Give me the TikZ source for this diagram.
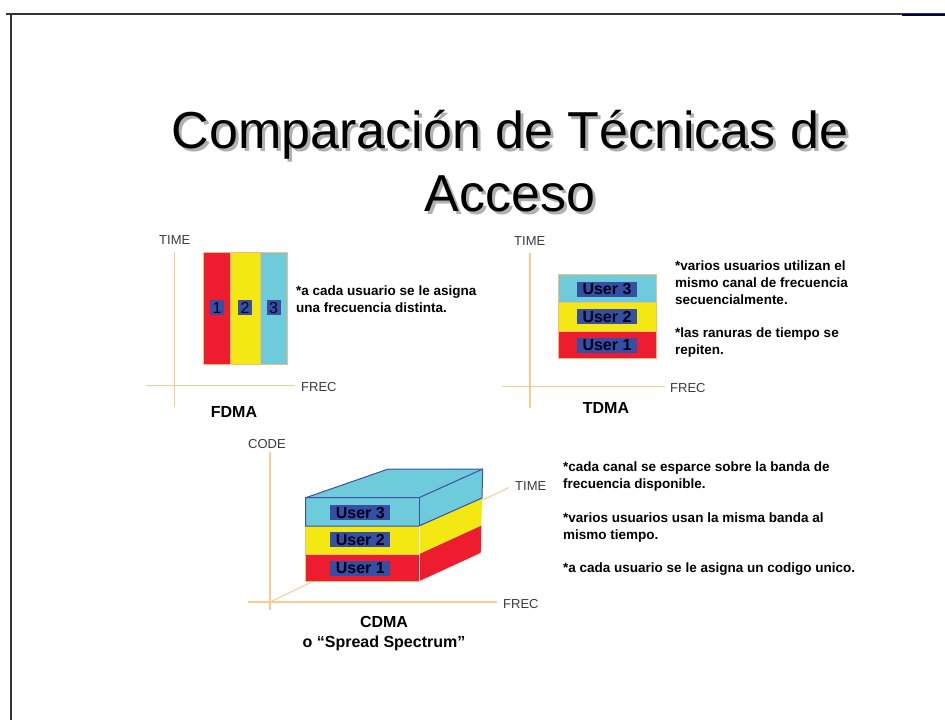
\documentclass[tikz,border=0pt]{standalone}
\usepackage{fontspec}
\setmainfont{Liberation Sans}
\definecolor{cred}{HTML}{ED1C2E}
\definecolor{cyel}{HTML}{F4E813}
\definecolor{ccyan}{HTML}{6ECBDC}
\definecolor{cnavy}{HTML}{3550A2}
\definecolor{cblueline}{HTML}{3A4FA8}
\definecolor{caxis}{HTML}{F8CB8F}
\definecolor{cedge}{HTML}{F5BE78}
\definecolor{clabel}{HTML}{3A3A3A}
\definecolor{cframe}{HTML}{333333}
\definecolor{cshadow}{HTML}{B0B0B0}
\newcommand{\shadowtext}[1]{\makebox[0pt][l]{\hspace{3pt}\raisebox{-3pt}{\textcolor{cshadow}{#1}}}#1}
\tikzset{
  axisline/.style={draw=caxis, line width=1.3pt},
  bandedge/.style={draw=cedge, line width=1pt},
  ubox/.style={fill=cnavy, text=black!90!blue, font=\bfseries\fontsize{16}{16}\selectfont, inner sep=0pt, minimum width=60pt, minimum height=15pt},
  nbox/.style={fill=cnavy, text=black!90!blue, font=\fontsize{16}{16}\selectfont, inner sep=0pt, minimum width=14pt, minimum height=15pt},
  axlabel/.style={text=clabel, font=\fontsize{13}{13}\selectfont, inner sep=0pt, anchor=west},
  note/.style={font=\bfseries\fontsize{13.5}{16.8}\selectfont, align=left, anchor=north west, inner sep=0pt},
  caption/.style={font=\bfseries\fontsize{16}{20}\selectfont, inner sep=0pt, align=center},
  titletext/.style={font=\fontsize{52}{62}\selectfont, inner sep=0pt, anchor=base},
}
\begin{document}
\begin{tikzpicture}[x=1pt,y=-1pt]
\useasboundingbox (0,0) rectangle (945,720);
% frame
\draw[cframe, line width=1.6pt] (6,14) -- (945,14);
\draw[cframe, line width=1.6pt] (11,14) -- (11,720);
\draw[black!70!blue, line width=1.4pt] (902,15) -- (945,15);
% title
\node[titletext] (t1) at (510,148) {\shadowtext{Comparación de Técnicas de}};
\node[titletext] (t2) at (510,211) {\shadowtext{Acceso}};

% ---------------- FDMA ----------------
\coordinate (fvt) at (174.3,252);
\coordinate (fvb) at (174.3,407);
\coordinate (fhl) at (146,385.7);
\coordinate (fhr) at (295,385.7);
\draw[axisline] (fvt) -- (fvb);
\draw[axisline] (fhl) -- (fhr);
\fill[cred] (203.3,252.3) rectangle (230.7,364);
\fill[cyel] (230.7,252.3) rectangle (260,364);
\fill[ccyan] (260,252.3) rectangle (287.7,364);
\draw[bandedge] (203.3,252.3) rectangle (287.7,364);
\draw[bandedge] (230.7,252.3) -- (230.7,364);
\draw[bandedge] (260,252.3) -- (260,364);
\node[nbox] (f1) at (217,307.5) {1};
\node[nbox] (f2) at (245,307.5) {2};
\node[nbox] (f3) at (273.5,307.5) {3};
\node[axlabel] (ftime) at (159,240) {TIME};
\node[axlabel] (ffrec) at (301,387.5) {FREC};
\node[caption] (fcap) at (234,412) {FDMA};
\node[note] (fnote) at (296,285.5) {*a cada usuario se le asigna\\una frecuencia distinta.};

% ---------------- TDMA ----------------
\coordinate (tvt) at (530,253);
\coordinate (tvb) at (530,408);
\coordinate (thl) at (502,386.7);
\coordinate (thr) at (665,386.7);
\draw[axisline] (tvt) -- (tvb);
\draw[axisline] (thl) -- (thr);
\fill[ccyan] (558,274) rectangle (656,302.3);
\fill[cyel] (558,302.3) rectangle (656,331);
\fill[cred] (558,331) rectangle (656,358);
\draw[bandedge] (558,274) rectangle (656,358);
\draw[bandedge] (558,302.3) -- (656,302.3);
\draw[bandedge] (558,331) -- (656,331);
\node[ubox] (tu3) at (607,289) {User 3};
\node[ubox] (tu2) at (607,316.5) {User 2};
\node[ubox] (tu1) at (607,345) {User 1};
\node[axlabel] (ttime) at (514,241) {TIME};
\node[axlabel] (tfrec) at (670,388) {FREC};
\node[caption] (tcap) at (606,408) {TDMA};
\node[note] (tnote1) at (675,261) {*varios usuarios utilizan el\\mismo canal de frecuencia\\secuencialmente.};
\node[note] (tnote2) at (675,327.5) {*las ranuras de tiempo se\\repiten.};

% ---------------- CDMA ----------------
\coordinate (co) at (270,602);
\coordinate (cvt) at (270,452);
\coordinate (cvb) at (270,610);
\coordinate (chl) at (248,602);
\coordinate (chr) at (497,602);
\coordinate (cdt) at (509,487.5);
\draw[axisline] (cvt) -- (cvb);
\draw[axisline] (chl) -- (chr);
\draw[draw=caxis, line width=1pt] (co) -- (cdt);
% box
\coordinate (A) at (305.7,497.7);  % front top left
\coordinate (B) at (419,497.7);    % front top right
\coordinate (C) at (482.7,469);    % back top right
\coordinate (D) at (388.3,469);    % back top left
\coordinate (E) at (480.7,553.3);  % back bottom right
\coordinate (F) at (419,581.7);    % front bottom right
\coordinate (G) at (305.7,581.7);  % front bottom left
\fill[cred] (305.7,554) rectangle (419,581.7);
\fill[cyel] (305.7,526) rectangle (419,554);
\fill[ccyan] (305.7,497.7) rectangle (419,526);
\fill[cred] (419,554) -- (481.3,525.5) -- (E) -- (F) -- cycle;
\fill[cyel] (419,526) -- (482,498) -- (481.3,525.5) -- (419,554) -- cycle;
\fill[ccyan] (B) -- (C) -- (482,498) -- (419,526) -- cycle;
\fill[ccyan] (A) -- (D) -- (C) -- (B) -- cycle;
\draw[cedge, line width=1pt] (305.7,526) -- (G) -- (F);
\draw[cedge, line width=0.8pt] (305.7,554) -- (419,554);
\draw[white, line width=1pt] (419,526) -- (F);
\draw[white, line width=0.6pt] (F) -- (E);
\draw[cblueline, line width=1pt] (305.7,526) -- (A) -- (D) -- (C) -- (482,498) -- (419,526) -- cycle;
\draw[cblueline, line width=1pt] (A) -- (B) -- (C);
\draw[cblueline, line width=0.8pt] (B) -- (419,526);
\node[ubox] (cu3) at (360.3,512.5) {User 3};
\node[ubox] (cu2) at (360.3,539.7) {User 2};
\node[ubox] (cu1) at (360.3,568.5) {User 1};
\node[axlabel] (ccode) at (248,444) {CODE};
\node[axlabel] (ctime) at (515,486) {TIME};
\node[axlabel] (cfrec) at (503,604) {FREC};
\node[caption] (ccap) at (384,634) {CDMA\\o “Spread Spectrum”};
\node[note] (cnote1) at (563,462) {*cada canal se esparce sobre la banda de\\frecuencia disponible.\\[16.8pt]*varios usuarios usan la misma banda al\\mismo tiempo.\\[16.8pt]*a cada usuario se le asigna un codigo unico.};
\end{tikzpicture}
\end{document}
